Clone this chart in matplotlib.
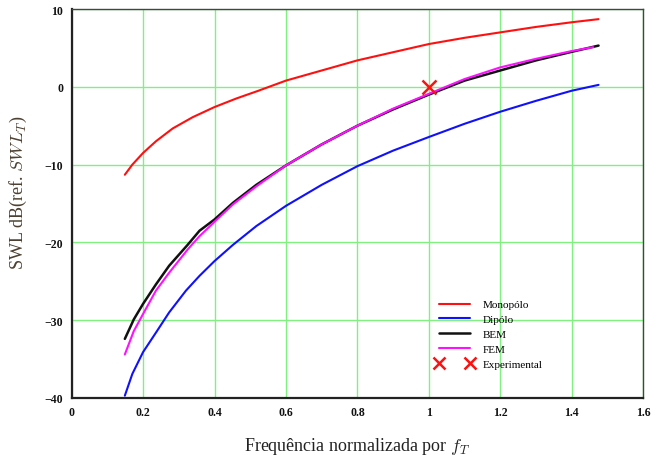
import matplotlib
matplotlib.use("Agg")
import matplotlib.pyplot as plt

# frequencia normalizada e SWL (dB ref. SWL_T)
x_mono = [0.149, 0.17, 0.2, 0.236, 0.283, 0.339, 0.4, 0.461, 0.523, 0.6, 0.7,
          0.8, 0.9, 1.0, 1.1, 1.2, 1.3, 1.4, 1.475]
y_mono = [-11.3, -10.0, -8.5, -7.0, -5.35, -3.9, -2.6, -1.5, -0.5, 0.8, 2.1,
          3.4, 4.45, 5.5, 6.3, 7.0, 7.7, 8.3, 8.7]

x_dip = [0.149, 0.17, 0.2, 0.236, 0.273, 0.32, 0.358, 0.4, 0.452, 0.517, 0.6,
         0.7, 0.8, 0.9, 1.0, 1.1, 1.2, 1.3, 1.4, 1.475]
y_dip = [-39.7, -36.9, -34.1, -31.6, -29.0, -26.2, -24.3, -22.4, -20.3, -17.9,
         -15.3, -12.6, -10.2, -8.2, -6.45, -4.75, -3.2, -1.8, -0.5, 0.25]

x_bem = [0.149, 0.174, 0.2, 0.236, 0.273, 0.325, 0.358, 0.4, 0.452, 0.517, 0.6,
         0.7, 0.8, 0.9, 1.0, 1.1, 1.2, 1.3, 1.4, 1.475]
y_bem = [-32.4, -29.9, -27.9, -25.4, -23.0, -20.3, -18.5, -17.05, -14.9, -12.6,
         -10.1, -7.4, -5.0, -2.9, -1.0, 0.8, 2.1, 3.4, 4.5, 5.3]

x_fem = [0.149, 0.174, 0.2, 0.236, 0.273, 0.325, 0.358, 0.4, 0.452, 0.517, 0.6,
         0.7, 0.8, 0.9, 1.0, 1.1, 1.2, 1.3, 1.4, 1.46]
y_fem = [-34.4, -31.4, -29.2, -26.2, -23.9, -20.9, -19.2, -17.35, -15.1, -12.8,
         -10.1, -7.4, -5.0, -2.8, -0.9, 1.0, 2.5, 3.6, 4.6, 5.1]

x_exp = [1.0]
y_exp = [0.0]

xticks = [0, 0.2, 0.4, 0.6, 0.8, 1, 1.2, 1.4, 1.6]
xtick_labels = ["0", "0.2", "0.4", "0.6", "0.8", "1", "1.2", "1.4", "1.6"]
yticks = [-40, -30, -20, -10, 0, 10]
ytick_labels = ["\u221240", "\u221230", "\u221220", "\u221210", "0", "10"]

plt.rcParams["font.family"] = ["Liberation Serif", "DejaVu Serif"]
plt.rcParams["mathtext.fontset"] = "cm"

fig = plt.figure(figsize=(6.57, 4.56), dpi=100)
ax = fig.add_axes([0.109, 0.125, 0.87, 0.853])

style = dict(solid_joinstyle="round", solid_capstyle="round")
ax.plot(x_mono, y_mono, color="#ff1010", lw=1.5, label="Monopólo", **style)
ax.plot(x_dip, y_dip, color="#1010ff", lw=1.5, label="Dipólo", **style)
ax.plot(x_bem, y_bem, color="#111111", lw=1.8, label="BEM", **style)
ax.plot(x_fem, y_fem, color="#ff10ff", lw=1.5, label="FEM", **style)
ax.plot(x_exp, y_exp, linestyle="none", marker="x", color="#ff1010",
        markersize=10, markeredgewidth=1.8, label="Experimental")

ax.set_xlim(0, 1.6)
ax.set_ylim(-40, 10)
ax.set_xticks(xticks)
ax.set_xticklabels(xtick_labels)
ax.set_yticks(yticks)
ax.set_yticklabels(ytick_labels)
ax.tick_params(length=0, labelsize=8.5, pad=6, colors="#111111")
for lab in ax.get_xticklabels() + ax.get_yticklabels():
    lab.set_fontweight("bold")

ax.grid(True, color="#80f080", lw=1.0)
ax.set_axisbelow(True)
for side in ["left", "bottom"]:
    ax.spines[side].set_linewidth(1.6)
    ax.spines[side].set_color("#222222")
for side in ["top", "right"]:
    ax.spines[side].set_linewidth(1.0)
    ax.spines[side].set_color("#444444")

ax.set_xlabel(r"Frequência normalizada por $f_T$", fontsize=13, color="#222222")
ax.set_ylabel(r"SWL dB(ref. $SWL_T$)", fontsize=13, color="#4d4030")
ax.xaxis.set_label_coords(0.5, -0.095)
ax.yaxis.set_label_coords(-0.075, 0.53)

leg = ax.legend(loc="lower left", bbox_to_anchor=(0.62, 0.05), frameon=False,
                fontsize=8, handlelength=3.4, handletextpad=0.8,
                labelspacing=0.45, numpoints=2, markerscale=0.85)

fig.savefig("out.png", dpi=100)
